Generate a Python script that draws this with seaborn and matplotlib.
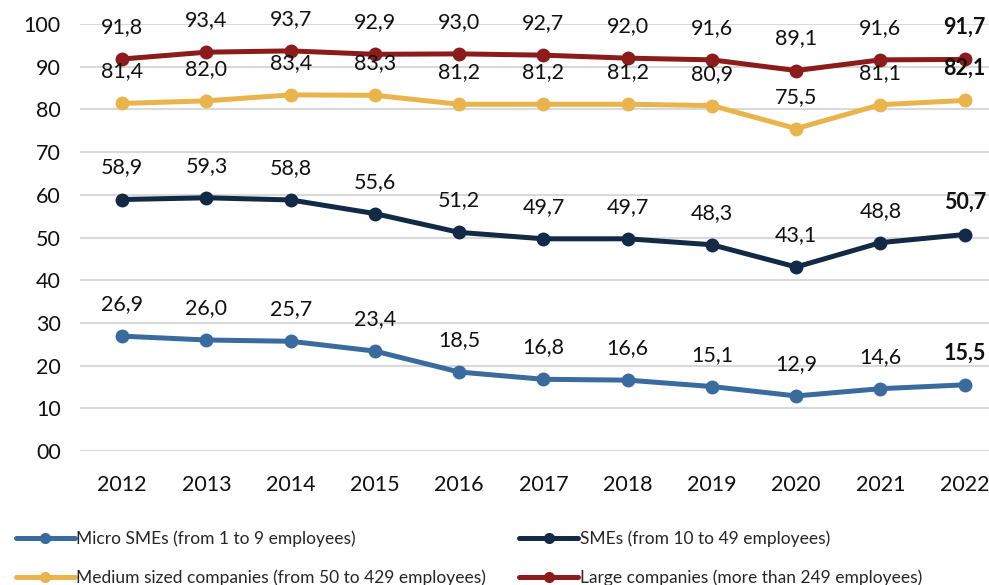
import numpy as np
import pandas as pd
import matplotlib.pyplot as plt
import seaborn as sns
from matplotlib.lines import Line2D

years = [2012, 2013, 2014, 2015, 2016, 2017, 2018, 2019, 2020, 2021, 2022]
micro = [26.9, 26.0, 25.7, 23.4, 18.5, 16.8, 16.6, 15.1, 12.9, 14.6, 15.5]
smes = [58.9, 59.3, 58.8, 55.6, 51.2, 49.7, 49.7, 48.3, 43.1, 48.8, 50.7]
medium = [81.4, 82.0, 83.4, 83.3, 81.2, 81.2, 81.2, 80.9, 75.5, 81.1, 82.1]
large = [91.8, 93.4, 93.7, 92.9, 93.0, 92.7, 92.0, 91.6, 89.1, 91.6, 91.7]

series_names = ['Micro SMEs (from 1 to 9 employees)',
                'SMEs (from 10 to 49 employees)',
                'Medium sized companies (from 50 to 429 employees)',
                'Large companies (more than 249 employees)']
colors = ['#3a6b9f', '#132a47', '#e9b44c', '#8c1c1c']

df = pd.DataFrame({'year': [str(y) for y in years] * 4,
                   'value': micro + smes + medium + large,
                   'series': np.repeat(series_names, len(years))})

sns.set_style('white')
plt.rcParams['font.family'] = ['Lato', 'DejaVu Sans']

fig = plt.figure(figsize=(9.89, 5.85), dpi=100)
ax = fig.add_axes([0.081, 0.229, 0.937, 0.730])

sns.lineplot(data=df, x='year', y='value', hue='series', palette=colors,
             marker='o', markersize=10, markeredgewidth=0, lw=3.6,
             ax=ax, legend=False, sort=False)

# data labels, last year in bold
for vals in [micro, smes, medium, large]:
    for i, v in enumerate(vals):
        ax.annotate(f'{v:.1f}'.replace('.', ','), (i, v),
                    xytext=(0, 23), textcoords='offset points',
                    ha='center', va='center', fontsize=15.5, color='#111111',
                    fontweight='bold' if i == len(vals) - 1 else 'normal')

ax.set_xlim(-0.5, len(years) - 0.5)
ax.set_ylim(0, 100)
ax.set_yticks(range(0, 101, 10))
ax.set_yticklabels([f'{t:02d}' for t in range(0, 101, 10)])
ax.yaxis.grid(True, color='#d9d9d9', lw=1.5)
ax.set_axisbelow(True)
ax.set_xlabel('')
ax.set_ylabel('')
ax.tick_params(labelsize=15.5, colors='#111111', length=0)
ax.tick_params(axis='y', pad=14)
ax.tick_params(axis='x', pad=17)
sns.despine(left=True, bottom=True)

handles = [Line2D([], [], color=c, lw=3.6, marker='o', markersize=7) for c in colors]
order = [0, 2, 1, 3]
fig.legend([handles[i] for i in order], [series_names[i] for i in order],
           ncol=2, loc='lower left', bbox_to_anchor=(0.0, -0.028),
           frameon=False, fontsize=12.5, handlelength=3.4, handletextpad=0.1,
           columnspacing=1.9, labelspacing=1.3)

plt.savefig('out.png', facecolor='#ffffff')
